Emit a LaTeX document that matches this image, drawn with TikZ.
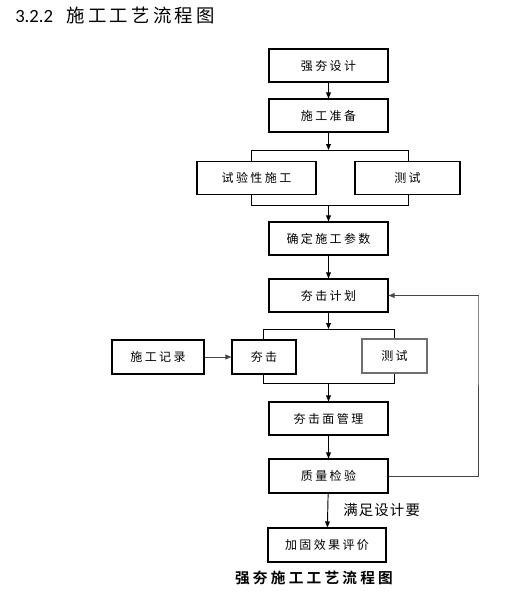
\documentclass[tikz,border=0pt]{standalone}
\usepackage{fontspec}
\usepackage{tikz}
\usetikzlibrary{arrows.meta, positioning, calc}
\setmainfont{Carlito}
\newfontfamily\cjk[LetterSpace=20]{Noto Sans CJK SC}
\newfontfamily\cjklabel[LetterSpace=8]{Noto Sans CJK SC}
\newfontfamily\cjktitle[LetterSpace=18]{Noto Sans CJK SC}
\newfontfamily\cjkcap[LetterSpace=22]{Noto Sans CJK SC Bold}
\definecolor{linegray}{RGB}{70,70,70}
\definecolor{framegray}{RGB}{110,110,110}

\tikzset{
  stepbox/.style={draw, line width=0.8pt, minimum width=119*0.75pt,
                  minimum height=33*0.75pt, inner sep=0pt,
                  font=\cjk\fontsize{9pt}{9pt}\selectfont},
  arr/.style={line width=0.7pt, -{Triangle[length=4.5pt,width=3.6pt]}},
  grayarr/.style={arr, draw=linegray},
  bracket/.style={line width=0.7pt}
}

\begin{document}
\begin{tikzpicture}[x=0.75pt, y=-0.75pt]
  \useasboundingbox (0,0) rectangle (505,596);

  % heading
  \node[anchor=west, inner sep=0pt, font=\fontsize{14pt}{14pt}\selectfont]
    (head) at (15,15) {3.2.2\hspace{10pt}{\cjktitle\fontsize{13.8pt}{14pt}\selectfont 施工工艺流程图}};

  % main column
  \node[stepbox] (design)  at (328.5,65.5)  {强夯设计};
  \node[stepbox] (prep)    at (328.5,115.5) {施工准备};
  \node[stepbox] (trial)   at (256.5,178)   {试验性施工};
  \node[stepbox, minimum width=105*0.75pt] (test1) at (407.5,178) {测试};
  \node[stepbox] (params)  at (328.5,238.5) {确定施工参数};
  \node[stepbox] (plan)    at (328.5,295.5) {夯击计划};
  \node[stepbox, minimum width=64*0.75pt, minimum height=34*0.75pt]
    (ram) at (264,357) {夯击};
  \node[stepbox, minimum width=65*0.75pt, minimum height=34*0.75pt,
        draw=framegray, line width=1.5pt] (test2) at (394.5,356) {测试};
  \node[stepbox, minimum width=92*0.75pt, minimum height=34*0.75pt]
    (record) at (158,357) {施工记录};
  \node[stepbox] (surface) at (328.5,418.5) {夯击面管理};
  \node[stepbox, minimum height=34*0.75pt] (check) at (328.5,476) {质量检验};
  \node[stepbox, minimum width=118*0.75pt, minimum height=34*0.75pt]
    (eval) at (327,545) {加固效果评价};

  % split / join points
  \coordinate (s1l) at (251,150);
  \coordinate (s1r) at (408,150);
  \coordinate (j1l) at (251,205);
  \coordinate (j1r) at (408,205);
  \coordinate (s2l) at (263,329);
  \coordinate (s2r) at (394,329);
  \coordinate (j2l) at (263,383);
  \coordinate (j2r) at (394,383);
  \coordinate (fb)  at (478,296);

  % connectors
  \draw[arr] (design) -- (prep);
  \draw[arr] (prep) -- (prep.south |- s1l);
  \draw[bracket] (trial.north -| s1l) -- (s1l) -- (s1r) -- (test1.north -| s1r);
  \draw[bracket] (trial.south -| j1l) -- (j1l) -- (j1r) -- (test1.south -| j1r);
  \draw[arr] (params.north |- j1l) -- (params);
  \draw[arr] (params) -- (plan);
  \draw[arr] (plan) -- (plan.south |- s2l);
  \draw[bracket] (ram.north -| s2l) -- (s2l) -- (s2r) -- (test2.north -| s2r);
  \draw[bracket] (ram.south -| j2l) -- (j2l) -- (j2r) -- (test2.south -| j2r);
  \draw[arr] (surface.north |- j2l) -- (surface);
  \draw[grayarr] (record) -- (ram);
  \draw[arr] (surface) -- (check);
  \draw[grayarr] (check.east) -| (fb) |- (plan.east);
  \draw[arr] (check) -- (eval)
    node[midway, right=8pt, font=\cjklabel\fontsize{10.8pt}{11pt}\selectfont] (ok) {满足设计要};

  % caption
  \node[font=\cjkcap\fontsize{11pt}{12pt}\selectfont] (cap) at (314,578)
    {强夯施工工艺流程图};
\end{tikzpicture}
\end{document}
